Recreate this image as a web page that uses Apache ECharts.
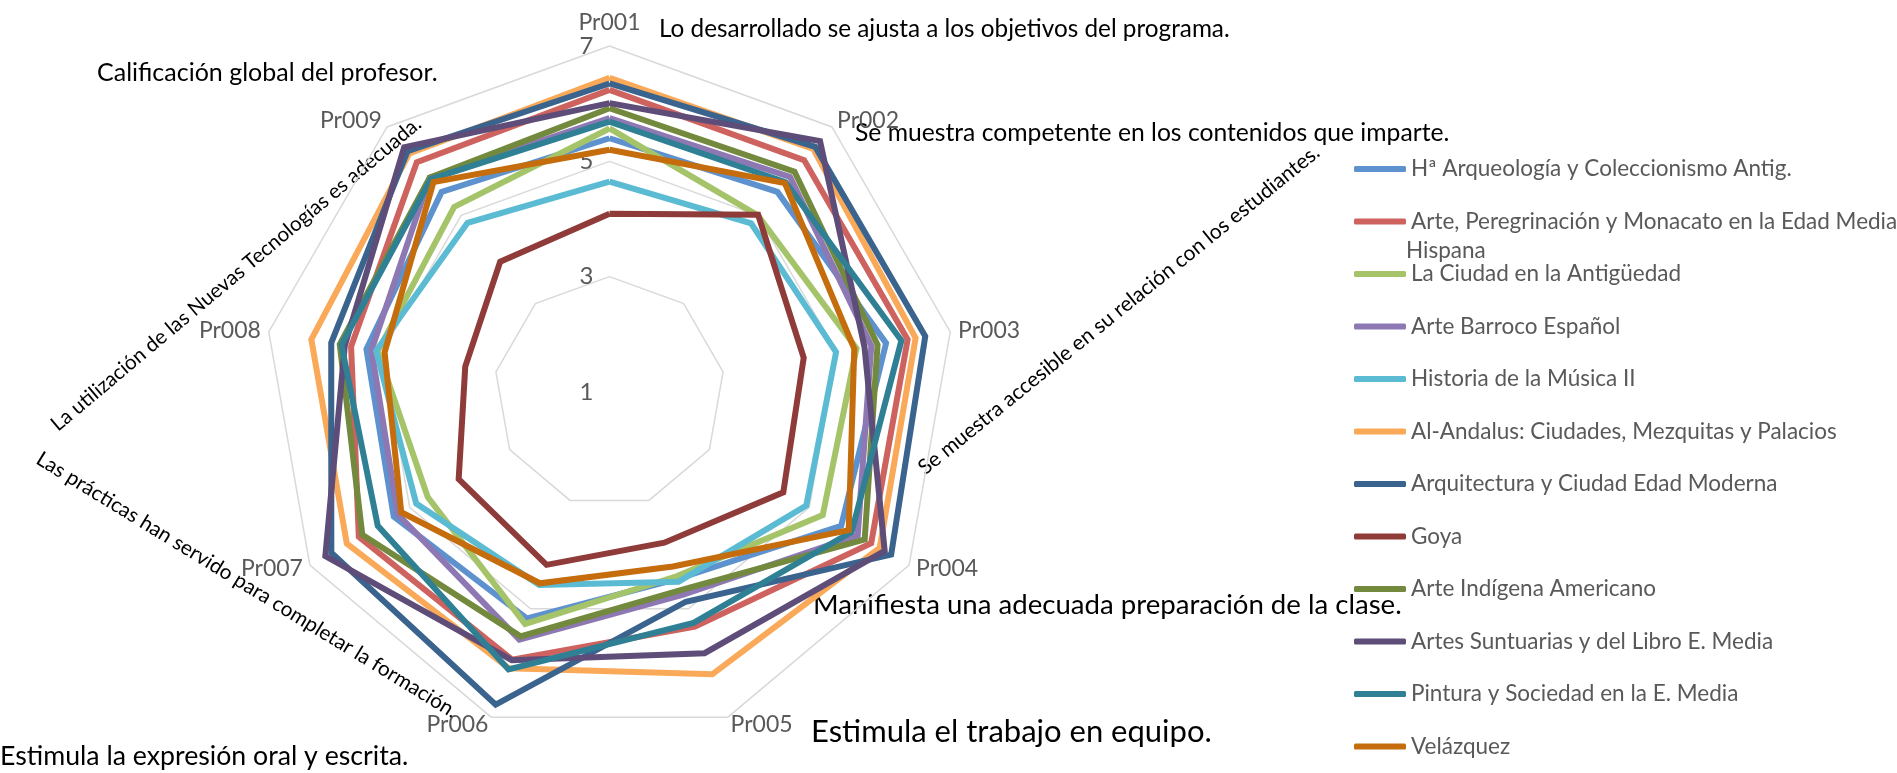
<!DOCTYPE html>
<html lang="es">
<head>
    <meta charset="UTF-8">
    <title>Valoración del profesorado</title>
    <script src="https://cdn.jsdelivr.net/npm/echarts@6/dist/echarts.min.js"></script>
    <style>
        body { margin: 0; background: #fff; }
        #chart { width: 1897px; height: 773px; }
    </style>
</head>
<body>
    <div id="chart"></div>
    <script>
        // ejes (en orden de las agujas del reloj, como en la hoja)
        const indicators = ['Pr001', 'Pr002', 'Pr003', 'Pr004', 'Pr005', 'Pr006', 'Pr007', 'Pr008', 'Pr009'];
        const axisTicks = ['1', '3', '5', '7'];

        const courseNames = [
            'Hª Arqueología y Coleccionismo Antig.',
            'Arte, Peregrinación y Monacato en la Edad Media Hispana',
            'La Ciudad en la Antigüedad',
            'Arte Barroco Español',
            'Historia de la Música II',
            'Al-Andalus: Ciudades, Mezquitas y Palacios',
            'Arquitectura y Ciudad Edad Moderna',
            'Goya',
            'Arte Indígena Americano',
            'Artes Suntuarias y del Libro E. Media',
            'Pintura y Sociedad en la E. Media',
            'Velázquez'
        ];
        const courseColors = ['#5D92CE', '#CD625E', '#A5C46A', '#8D78B4', '#5ABBD2', '#F9A957',
                              '#3A638E', '#8E3B39', '#73893D', '#5E4D78', '#2F8094', '#C56C0C'];

        // valores Pr001 .. Pr009
        const arqueologia   = [5.40, 5.53, 5.87, 5.64, 4.45, 5.18, 5.32, 5.28, 5.53];
        const peregrinacion = [6.24, 6.25, 6.25, 6.24, 5.33, 5.94, 6.02, 5.55, 6.20];
        const ciudad        = [5.57, 5.00, 5.35, 5.27, 4.40, 5.28, 4.64, 5.08, 5.19];
        const barroco       = [5.75, 5.87, 5.61, 5.97, 4.74, 5.57, 5.24, 5.19, 5.85];
        const musica        = [4.65, 4.82, 4.99, 4.94, 4.50, 4.56, 4.87, 5.11, 4.83];
        const alAndalus     = [6.45, 6.50, 6.39, 6.41, 6.21, 6.10, 6.26, 6.25, 6.40];
        const arquitectura  = [6.35, 6.55, 6.56, 6.64, 4.87, 6.77, 6.57, 5.90, 6.45];
        const goya          = [4.09, 5.01, 4.42, 4.48, 3.78, 4.19, 4.02, 3.54, 3.95];
        const indigena      = [5.92, 5.99, 5.72, 6.11, 4.65, 5.51, 5.95, 5.75, 5.85];
        const suntuarias    = [6.01, 6.68, 5.49, 6.51, 5.82, 5.95, 6.69, 5.66, 6.54];
        const pintura       = [5.69, 5.75, 6.14, 5.85, 5.26, 6.12, 5.64, 5.72, 5.82];
        const velazquez     = [5.20, 5.73, 5.31, 5.79, 4.22, 4.53, 5.17, 4.96, 5.75];

        const courseValues = [arqueologia, peregrinacion, ciudad, barroco, musica, alAndalus,
                              arquitectura, goya, indigena, suntuarias, pintura, velazquez];

        const FONT = 'Lato';
        const GREY = '#595959';

        // echarts dibuja el radar en sentido antihorario: se invierte el orden
        const order = [0].concat(indicators.map((_, i) => i).slice(1).reverse());

        const chart = echarts.init(document.getElementById('chart'));

        const option = {
            animation: false,
            textStyle: { fontFamily: FONT },
            legend: {
                orient: 'vertical',
                left: 1349,
                top: 151,
                itemWidth: 52,
                itemHeight: 6,
                itemGap: 26.5,
                icon: 'roundRect',
                data: courseNames,
                formatter: function (name) {
                    return name === courseNames[1] ? 'Arte, Peregrinación y Monacato en la Edad Media' : name;
                },
                textStyle: { color: GREY, fontSize: 22.5, fontFamily: FONT, lineHeight: 26 }
            },
            radar: {
                center: [609.5, 392],
                radius: 346,
                shape: 'polygon',
                splitNumber: 3,
                startAngle: 90,
                axisName: { color: GREY, fontSize: 23, fontFamily: FONT },
                nameGap: 8,
                axisLine: { show: false },
                axisTick: { show: false },
                axisLabel: { show: false },
                splitArea: { show: false },
                splitLine: { lineStyle: { color: '#D9D9D9', width: 1.5 } },
                indicator: order.map((i, k) => {
                    const ind = { name: indicators[i], min: 1, max: 7 };
                    if (k === 0) {
                        ind.axisLabel = {
                            show: true, color: GREY, fontSize: 24, fontFamily: FONT, margin: 16,
                            formatter: v => axisTicks.indexOf(String(v)) >= 0 ? String(v) : ''
                        };
                    }
                    return ind;
                })
            },
            series: courseNames.map((name, s) => ({
                name: name,
                type: 'radar',
                symbol: 'none',
                z: 2,
                itemStyle: { color: courseColors[s] },
                lineStyle: { color: courseColors[s], width: 6, join: 'miter' },
                data: [{ name: name, value: order.map(i => courseValues[s][i]) }]
            })),
            graphic: [
                { type: 'text', x: 659, y: 29, style: { text: 'Lo desarrollado se ajusta a los objetivos del programa.', font: '24.3px ' + FONT, fill: '#000', verticalAlign: 'middle' } },
                { type: 'text', x: 97, y: 73, style: { text: 'Calificación global del profesor.', font: '25px ' + FONT, fill: '#000', verticalAlign: 'middle' } },
                { type: 'text', x: 855, y: 133, style: { text: 'Se muestra competente en los contenidos que imparte.', font: '24.7px ' + FONT, fill: '#000', verticalAlign: 'middle' } },
                { type: 'text', x: 1119, y: 310, rotation: 39 * Math.PI / 180, style: { text: 'Se muestra accesible en su relación con los estudiantes.', font: '21px ' + FONT, fill: '#000', align: 'center', verticalAlign: 'middle' } },
                { type: 'text', x: 813, y: 605, style: { text: 'Manifiesta una adecuada preparación de la clase.', font: '27.6px ' + FONT, fill: '#000', verticalAlign: 'middle' } },
                { type: 'text', x: 811, y: 732, style: { text: 'Estimula el trabajo en equipo.', font: '31px ' + FONT, fill: '#000', verticalAlign: 'middle' } },
                { type: 'text', x: 0, y: 756, style: { text: 'Estimula la expresión oral y escrita.', font: '26.7px ' + FONT, fill: '#000', verticalAlign: 'middle' } },
                { type: 'text', x: 247, y: 585, rotation: -31.5 * Math.PI / 180, style: { text: 'Las prácticas han servido para completar la formación.', font: '20.7px ' + FONT, fill: '#000', align: 'center', verticalAlign: 'middle' } },
                { type: 'text', x: 236, y: 274, rotation: 40 * Math.PI / 180, style: { text: 'La utilización de las Nuevas Tecnologías es adecuada.', font: '20.5px ' + FONT, fill: '#000', align: 'center', verticalAlign: 'middle' } },
                { type: 'text', x: 1406, y: 251, style: { text: 'Hispana', font: '22.5px ' + FONT, fill: GREY, verticalAlign: 'middle' } }
            ]
        };

        chart.setOption(option);
        window.addEventListener('resize', () => chart.resize());
    </script>
</body>
</html>
